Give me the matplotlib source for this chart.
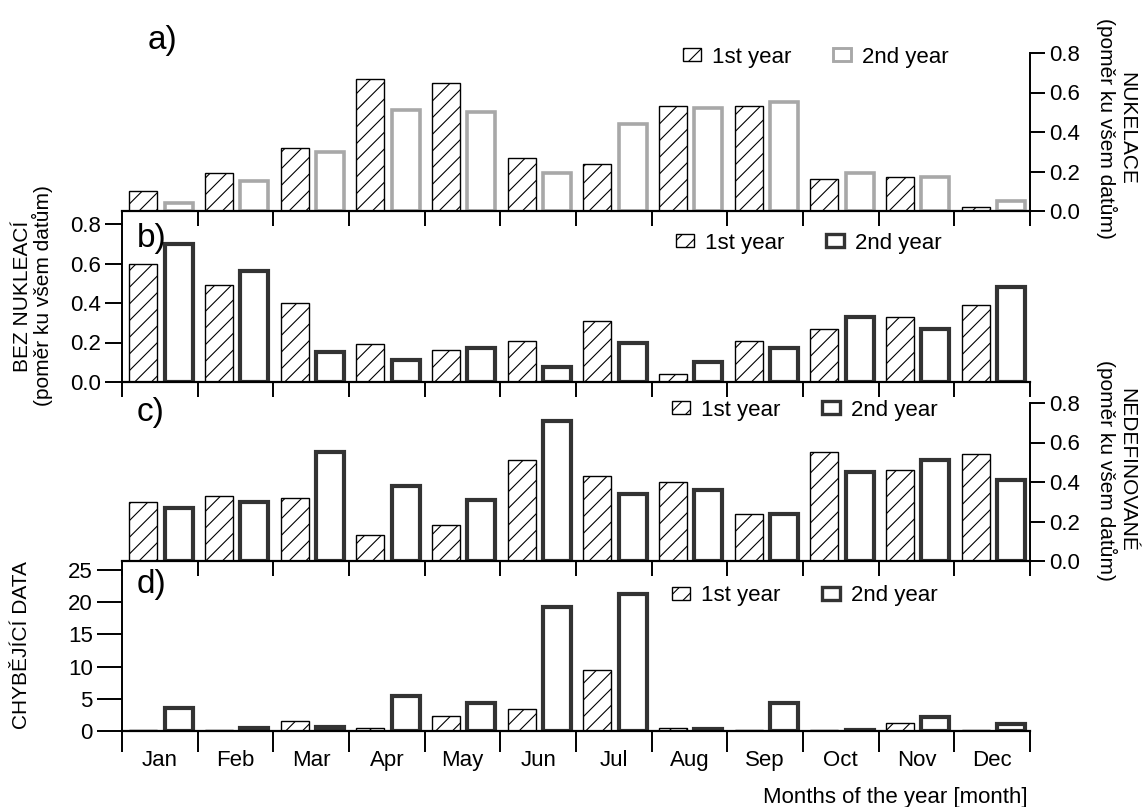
import matplotlib
matplotlib.use("Agg")
import matplotlib.pyplot as plt
from matplotlib.patches import Patch
import numpy as np

plt.rcParams['font.family'] = ['Liberation Sans', 'DejaVu Sans']
plt.rcParams['hatch.linewidth'] = 0.8

months = ["Jan", "Feb", "Mar", "Apr", "May", "Jun",
          "Jul", "Aug", "Sep", "Oct", "Nov", "Dec"]

# a) nucleation days, share of all days
nukleace_y1 = [0.10, 0.19, 0.32, 0.67, 0.65, 0.27, 0.24, 0.53, 0.53, 0.16, 0.17, 0.02]
nukleace_y2 = [0.04, 0.15, 0.30, 0.51, 0.50, 0.19, 0.44, 0.52, 0.55, 0.19, 0.17, 0.05]

# b) no nucleation
bez_y1 = [0.60, 0.49, 0.40, 0.19, 0.16, 0.21, 0.31, 0.04, 0.21, 0.27, 0.33, 0.39]
bez_y2 = [0.70, 0.56, 0.15, 0.11, 0.17, 0.075, 0.20, 0.10, 0.17, 0.33, 0.27, 0.48]

# c) undefined
nedef_y1 = [0.30, 0.33, 0.32, 0.13, 0.18, 0.51, 0.43, 0.40, 0.24, 0.55, 0.46, 0.54]
nedef_y2 = [0.27, 0.30, 0.55, 0.38, 0.31, 0.71, 0.34, 0.36, 0.24, 0.45, 0.51, 0.41]

# d) missing data (days)
chybi_y1 = [0.15, 0.1, 1.5, 0.5, 2.3, 3.4, 9.4, 0.5, 0.1, 0.1, 1.2, 0.1]
chybi_y2 = [3.6, 0.4, 0.6, 5.4, 4.3, 19.3, 21.3, 0.3, 4.3, 0.2, 2.2, 1.1]

W, H = 1148, 807
fig = plt.figure(figsize=(W / 100, H / 100), dpi=100)


def px_axes(left, top, right, bottom):
    return fig.add_axes([left / W, 1 - bottom / H, (right - left) / W, (bottom - top) / H])


x = np.arange(len(months))
bw = 0.37

panels = [
    dict(top=30, bottom=211, vtop=53, vmax=0.8, side="right", y1=nukleace_y1, y2=nukleace_y2,
         ec2="#a8a8a8", lw2=2.6, letter="a)", lxy=(148, 40), leg=(683, 57), tl=11),
    dict(top=211, bottom=382, vtop=224, vmax=0.8, side="left", y1=bez_y1, y2=bez_y2,
         ec2="#333333", lw2=3.0, letter="b)", lxy=(137, 238), leg=(676, 243), tl=12),
    dict(top=382, bottom=561, vtop=403, vmax=0.8, side="right", y1=nedef_y1, y2=nedef_y2,
         ec2="#333333", lw2=3.0, letter="c)", lxy=(137, 412), leg=(672, 410), tl=11),
    dict(top=561, bottom=731, vtop=570, vmax=25, side="left", y1=chybi_y1, y2=chybi_y2,
         ec2="#333333", lw2=3.0, letter="d)", lxy=(137, 585), leg=(672, 596), tl=18),
]

axes = []
for p in panels:
    ax = px_axes(122, p["top"], 1030, p["bottom"])
    axes.append(ax)
    ax.patch.set_alpha(0)
    ymax = p["vmax"] * (p["bottom"] - p["top"]) / (p["bottom"] - p["vtop"])
    ax.set_ylim(0, ymax)
    ax.set_xlim(-0.5, 11.5)

    ax.bar(x - 0.22, p["y1"], bw, facecolor="white", edgecolor="black",
           linewidth=1.0, hatch="//", zorder=2)
    ax.bar(x + 0.25, p["y2"], bw, facecolor="white", edgecolor=p["ec2"],
           linewidth=p["lw2"], zorder=2)

    ax.spines["top"].set_visible(False)
    other = "left" if p["side"] == "right" else "right"
    ax.spines[other].set_visible(False)
    ax.spines[p["side"]].set_bounds(0, p["vmax"])
    ax.spines[p["side"]].set_linewidth(1.4)
    ax.spines["bottom"].set_linewidth(1.6)

    if p["side"] == "right":
        ax.yaxis.tick_right()
    else:
        ax.yaxis.tick_left()
    if p["vmax"] == 25:
        ax.set_yticks([0, 5, 10, 15, 20, 25])
        ax.set_yticklabels(["0", "5", "10", "15", "20", "25"])
    else:
        ax.set_yticks([0.0, 0.2, 0.4, 0.6, 0.8])
        ax.set_yticklabels(["0.0", "0.2", "0.4", "0.6", "0.8"])
    ax.tick_params(axis="y", direction="out", length=p["tl"], width=1.4, labelsize=16, pad=3)

    ax.set_xticks(np.arange(-0.5, 12, 1.0))
    ax.set_xticklabels([])
    ax.tick_params(axis="x", which="major", direction="out", length=11, width=1.4)

    ax.text(p["lxy"][0] / W, 1 - p["lxy"][1] / H, p["letter"], transform=fig.transFigure,
            fontsize=24, ha="left", va="center")

    handles = [
        Patch(facecolor="white", edgecolor="black", linewidth=1.0, hatch="//", label="1st year"),
        Patch(facecolor="white", edgecolor=p["ec2"], linewidth=p["lw2"] * 0.8, label="2nd year"),
    ]
    ax.legend(handles=handles, loc="center left",
              bbox_to_anchor=(p["leg"][0] / W, 1 - p["leg"][1] / H),
              bbox_transform=fig.transFigure, frameon=False, ncol=2,
              fontsize=16, handlelength=0.8, handleheight=0.55,
              handletextpad=0.5, columnspacing=1.9, borderpad=0, borderaxespad=0)

# month labels on the bottom panel
axd = axes[-1]
axd.set_xticks(x, labels=months, minor=True)
axd.tick_params(axis="x", which="minor", length=0, labelsize=16, pad=14)
axd.tick_params(axis="x", which="major", length=15)

fig.text(1028 / W, 1 - 797 / H, "Months of the year [month]", ha="right", va="center", fontsize=16)

fig.text(1116 / W, 1 - 128 / H, "NUKELACE\n(poměr ku všem datům)", rotation=-90,
         ha="center", va="center", multialignment="center", fontsize=15, linespacing=1.05)
fig.text(33 / W, 1 - 296 / H, "BEZ NUKLEACÍ\n(poměr ku všem datům)", rotation=90,
         ha="center", va="center", multialignment="center", fontsize=15, linespacing=1.05)
fig.text(1116 / W, 1 - 470 / H, "NEDEFINOVANÉ\n(poměr ku všem datům)", rotation=-90,
         ha="center", va="center", multialignment="center", fontsize=15, linespacing=1.05)
fig.text(22 / W, 1 - 645 / H, "CHYBĚJÍCÍ DATA", rotation=90,
         ha="center", va="center", fontsize=15)

fig.savefig("out.png", dpi=100)
